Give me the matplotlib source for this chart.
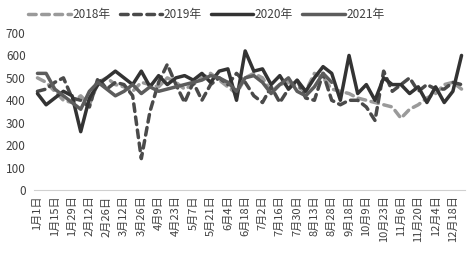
import matplotlib
matplotlib.use("Agg")
import matplotlib.pyplot as plt

plt.rcParams['font.family'] = ['Noto Sans CJK SC', 'DejaVu Sans']

tick_labels = ["1月1日", "1月15日", "1月29日", "2月12日", "2月26日", "3月12日", "3月26日",
               "4月9日", "4月23日", "5月7日", "5月21日", "6月4日", "6月18日", "7月2日",
               "7月16日", "7月30日", "8月13日", "8月28日", "9月18日", "10月9日", "10月23日",
               "11月6日", "11月20日", "12月4日", "12月18日"]

s2018 = [500, 480, 440, 400, 390, 420, 380, 480, 500, 470, 460, 440, 480, 470, 460, 500,
         480, 450, 470, 500, 520, 490, 460, 430, 500, 520, 500, 440, 470, 480, 460, 440,
         520, 500, 450, 440, 430, 410, 400, 390, 380, 370, 320, 360, 380, 410, 430, 470,
         480, 450]
s2019 = [440, 450, 480, 500, 410, 400, 370, 500, 450, 480, 470, 420, 140, 350, 480, 560,
         470, 390, 480, 400, 470, 500, 470, 520, 480, 420, 390, 460, 390, 450, 490, 410,
         400, 520, 400, 380, 400, 400, 370, 310, 530, 440, 470, 500, 440, 470, 450, 450,
         480, 470]
s2020 = [430, 380, 410, 440, 420, 260, 410, 470, 500, 530, 500, 470, 530, 460, 510, 470,
         500, 510, 490, 520, 480, 530, 540, 400, 620, 530, 540, 470, 510, 450, 490, 440,
         500, 550, 520, 400, 600, 430, 470, 400, 500, 470, 470, 430, 460, 390, 460, 390,
         440, 600]
s2021 = [520, 520, 450, 420, 390, 360, 440, 480, 450, 420, 440, 470, 430, 460, 440, 450,
         460, 470, 480, 490, 510, 500, 480, 440, 500, 510, 480, 430, 470, 500, 440, 420,
         460, 520, 480]

fig = plt.figure(figsize=(4.69, 2.59), dpi=100)
ax = fig.add_axes([34/469, 1-190/259, (465-34)/469, (190-33)/259])

lw = 2.5
ax.plot(list(range(len(s2018))), s2018, color="#9a9a9a", lw=lw, ls=(0, (2.2, 1.6)), dash_capstyle='round', label="2018年")
ax.plot(list(range(len(s2019))), s2019, color="#4a4a4a", lw=lw, ls=(0, (2.2, 1.6)), dash_capstyle='round', label="2019年")
ax.plot(list(range(len(s2020))), s2020, color="#333333", lw=lw, solid_capstyle='round', label="2020年")
ax.plot(list(range(len(s2021))), s2021, color="#5c5c5c", lw=lw, solid_capstyle='round', label="2021年")

ax.set_xlim(-0.4, 49.4)
ax.set_ylim(0, 700)
ax.set_yticks(range(0, 701, 100))
ax.set_xticks(list(range(0, 2*len(tick_labels), 2)))
ax.set_xticklabels(tick_labels, rotation=90, fontsize=8, color="#404040")
ax.tick_params(axis='y', labelsize=8.5, colors="#404040", length=0, pad=6)
ax.tick_params(axis='x', length=0, pad=4)
for sp in ["top", "right", "left"]:
    ax.spines[sp].set_visible(False)
ax.spines["bottom"].set_color("#d0d0d0")

leg = fig.legend(loc="center", bbox_to_anchor=(0.44, 0.945), ncol=4, frameon=False,
                 fontsize=8.5, handlelength=3.6, columnspacing=0.8, handletextpad=0.1)
for t in leg.get_texts():
    t.set_color("#404040")

fig.savefig("out.png", dpi=100)
